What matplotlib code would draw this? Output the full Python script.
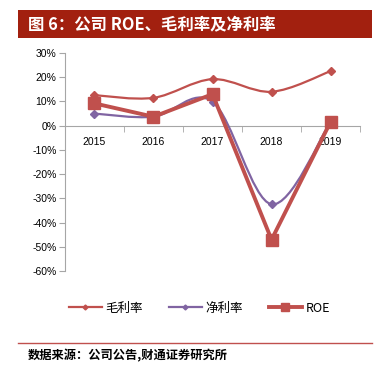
import numpy as np
import matplotlib.pyplot as plt
from matplotlib.path import Path
from matplotlib.patches import PathPatch, Rectangle
from matplotlib.lines import Line2D

plt.rcParams['font.family'] = ['Liberation Sans', 'Noto Sans CJK SC', 'DejaVu Sans']

# data (percent)
years = ['2015', '2016', '2017', '2018', '2019']
gross_margin = [12.6, 11.5, 19.2, 14.0, 22.5]
net_margin = [5.0, 3.7, 9.9, -32.4, 1.6]
roe = [9.2, 3.7, 13.0, -47.0, 1.6]

C_RED = '#C0504D'
C_PURPLE = '#8064A2'
C_BANNER = '#A2200F'


def smooth_path(x, y):
    # Catmull-Rom style bezier, like Excel "smoothed line"
    pts = np.column_stack([x, y]).astype(float)
    n = len(pts)
    verts = [pts[0]]
    codes = [Path.MOVETO]
    for i in range(n - 1):
        p0 = pts[i - 1] if i > 0 else pts[i]
        p1 = pts[i]
        p2 = pts[i + 1]
        p3 = pts[i + 2] if i + 2 < n else pts[i + 1]
        c1 = p1 + (p2 - p0) / 6.0
        c2 = p2 - (p3 - p1) / 6.0
        verts += [c1, c2, p2]
        codes += [Path.CURVE4] * 3
    return Path(verts, codes)


fig = plt.figure(figsize=(3.91, 3.73), dpi=100)
ax = fig.add_axes([0.166, 0.273, 0.755, 0.585])

xpos = np.arange(len(years))

# 毛利率 (smoothed)
ax.add_patch(PathPatch(smooth_path(xpos, gross_margin), fill=False,
                       edgecolor=C_RED, lw=1.6, zorder=2))
ax.plot(xpos, gross_margin, ls='none', marker='D', ms=4.5, color=C_RED, zorder=3)

# 净利率 (smoothed)
ax.add_patch(PathPatch(smooth_path(xpos, net_margin), fill=False,
                       edgecolor=C_PURPLE, lw=1.6, zorder=4))
ax.plot(xpos, net_margin, ls='none', marker='D', ms=4.5, color=C_PURPLE, zorder=5)

# ROE
ax.plot(xpos, roe, color=C_RED, lw=2.8, marker='s', ms=9, zorder=6)

ax.set_xlim(-0.5, len(years) - 0.5)
ax.set_ylim(-60, 30)
ax.set_yticks(np.arange(-60, 31, 10))
ax.set_yticklabels([f'{v}%' for v in range(-60, 31, 10)])
ax.set_xticks(xpos)
ax.set_xticklabels(years)
ax.set_xticks(np.arange(-0.5, len(years), 1.0), minor=True)

for s in ['top', 'right']:
    ax.spines[s].set_visible(False)
ax.spines['left'].set_color('#A6A6A6')
ax.spines['bottom'].set_color('#A6A6A6')
ax.spines['bottom'].set_position(('data', 0))

ax.tick_params(axis='y', direction='out', length=4, color='#A6A6A6',
               labelsize=7.5, pad=2)
ax.tick_params(axis='x', which='major', length=0, labelsize=7.5, pad=8)
ax.tick_params(axis='x', which='minor', direction='out', length=4, color='#A6A6A6')

# legend
handles = [
    Line2D([], [], color=C_RED, lw=1.6, marker='D', ms=2.5),
    Line2D([], [], color=C_PURPLE, lw=1.6, marker='D', ms=2.5),
    Line2D([], [], color=C_RED, lw=2.8, marker='s', ms=6),
]
fig.legend(handles, ['毛利率', '净利率', 'ROE'], ncol=3, frameon=False,
           loc='center', bbox_to_anchor=(0.51, 0.174),
           handlelength=2.6, columnspacing=2.1, handletextpad=0.3,
           prop={'family': ['Noto Sans CJK SC', 'DejaVu Sans'], 'size': 9})

# title banner
fig.patches.append(Rectangle((0.046, 0.898), 0.905, 0.075, transform=fig.transFigure,
                             facecolor=C_BANNER, edgecolor='none'))
fig.text(0.072, 0.935, '图 6：公司 ROE、毛利率及净利率', color='white',
         fontsize=11.8, fontweight='bold', va='center', ha='left',
         family=['Noto Sans CJK SC', 'DejaVu Sans'])

# bottom rule and source
fig.add_artist(Line2D([0.046, 0.951], [0.080, 0.080], transform=fig.transFigure,
                      color=C_RED, lw=1))
fig.text(0.072, 0.045, '数据来源：公司公告,财通证券研究所', fontsize=8.8,
         fontweight='bold', va='center', ha='left',
         family=['Noto Sans CJK SC', 'DejaVu Sans'])

fig.savefig('out.png', dpi=100)
